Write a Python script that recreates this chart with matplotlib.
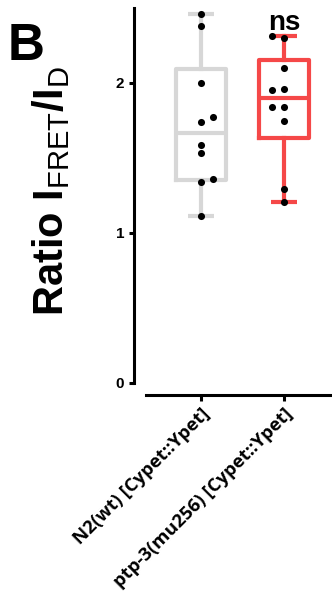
import numpy as np
import matplotlib
matplotlib.use("Agg")
import matplotlib.pyplot as plt
from matplotlib import cbook

# ---- data ----
categories = ["N2(wt) [Cypet::Ypet]", "ptp-3(mu256) [Cypet::Ypet]"]
wt_values = [2.46, 2.38, 2.00, 1.775, 1.742, 1.59, 1.535, 1.358, 1.342, 1.113]
ptp3_values = [2.315, 2.302, 2.102, 1.958, 1.953, 1.842, 1.838, 1.749, 1.291, 1.205]
y_ticks = [0, 1, 2]
y_tick_labels = ["0", "1", "2"]
sig_label = "ns"

# horizontal dodge of overlapping dots (style only)
wt_dodge = [0, 0, 0, 1, 0, 0, 0, 1, 0, 0]
ptp3_dodge = [-1, 0, 0, 0, -1, -1, 0, 0, 0, 0]

colors = ["#D7D7D7", "#F54848"]

plt.rcParams["font.family"] = ["Liberation Sans", "DejaVu Sans"]
plt.rcParams["mathtext.fontset"] = "custom"
plt.rcParams["mathtext.rm"] = "Liberation Sans"
plt.rcParams["mathtext.bf"] = "Liberation Sans:bold"
plt.rcParams["mathtext.it"] = "Liberation Sans:italic"

fig = plt.figure(figsize=(3.32, 5.92), dpi=100)
W, H = 332, 592
ax = fig.add_axes([146 / W, 1 - 383 / H, 186 / W, 375 / H])

datasets = [wt_values, ptp3_values]
positions = [1, 2]
lw = 3.0

for data, pos, col in zip(datasets, positions, colors):
    stats = cbook.boxplot_stats(np.asarray(data), whis=(0, 100))[0]
    stats["q1"] = np.percentile(data, 25, method="weibull")
    stats["q3"] = np.percentile(data, 75, method="weibull")
    stats["med"] = np.median(data)
    ax.bxp([stats], positions=[pos], widths=0.6, capwidths=0.32,
           showfliers=False, patch_artist=False,
           boxprops=dict(color=col, linewidth=lw),
           medianprops=dict(color=col, linewidth=lw),
           whiskerprops=dict(color=col, linewidth=lw),
           capprops=dict(color=col, linewidth=lw, solid_capstyle="butt"),
           manage_ticks=False)

dodge_step = 0.14
for data, pos, dodge in zip(datasets, positions, [wt_dodge, ptp3_dodge]):
    xs = pos + np.asarray(dodge) * dodge_step
    ax.scatter(xs, data, s=26, color="black", zorder=5, linewidths=0)

ax.set_xlim(1 - 55 / 83, 2 + 48 / 83)
ax.set_ylim(0, 2.5)

for s in ["top", "right"]:
    ax.spines[s].set_visible(False)
ax.spines["left"].set_position(("outward", 8.6))
ax.spines["bottom"].set_position(("outward", 8.6))
ax.spines["left"].set_linewidth(2.2)
ax.spines["bottom"].set_linewidth(2.2)
ax.spines["left"].set_bounds(0, 2.5)

ax.set_yticks(y_ticks)
ax.set_yticklabels(y_tick_labels, fontsize=11, fontweight="bold")
ax.tick_params(axis="y", length=3.5, width=2.2, pad=3.5)
ax.set_xticks(positions)
ax.set_xticklabels(categories, rotation=45, ha="right", rotation_mode="anchor",
                   fontsize=13.3, family=["Open Sans", "DejaVu Sans"],
                   fontweight="bold")
ax.tick_params(axis="x", length=4, width=2.2, pad=3)

ax.text(2, 2.353, sig_label, ha="center", va="baseline", fontsize=20,
        fontweight="bold")

fig.text(51 / W, 1 - 191 / H,
         r"$\mathbf{Ratio\ I}_{\mathrm{FRET}}\mathbf{/I}_{\mathrm{D}}$",
         rotation=90, ha="center", va="center", fontsize=30)

fig.text(8 / W, 1 - 60 / H, "B", fontsize=37, fontweight="bold",
         ha="left", va="baseline")

fig.savefig("out.png", dpi=100)
